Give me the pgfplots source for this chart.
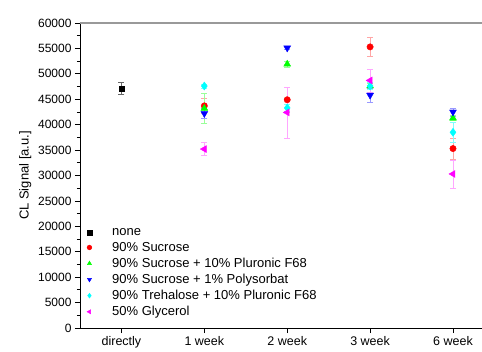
\documentclass[border=0pt]{standalone}
\usepackage{pgfplots}
\pgfplotsset{compat=1.18}
\usepackage{fontspec}
\setmainfont{Liberation Sans}
\definecolor{cgreen}{RGB}{0,255,0}
\definecolor{ccyan}{RGB}{0,255,255}
\definecolor{cmag}{RGB}{255,0,255}
\begin{document}
\begin{tikzpicture}
\begin{axis}[
  name=ax,
  at={(0,0)}, anchor=south west,
  scale only axis,
  width=402pt, height=305pt,
  xmin=-0.5, xmax=4.35,
  ymin=0, ymax=60000,
  axis x line*=bottom, axis y line*=left,
  axis line style={line width=0.9pt},
  xtick={0,1,2,3,4},
  xticklabels={directly,1 week,2 week,3 week,6 week},
  ytick={0,5000,...,60000},
  minor y tick num=1,
  tick align=outside,
  major tick length=5pt, minor tick length=3pt,
  tick style={line width=0.8pt, black},
  scaled y ticks=false,
  /pgf/number format/assume math mode=true,
  yticklabel style={/pgf/number format/1000 sep={}, font=\fontsize{12}{14}\selectfont},
  xticklabel style={font=\fontsize{12.5}{14}\selectfont},
  ylabel={CL Signal [a.u.]},
  ylabel style={font=\fontsize{13}{15}\selectfont},
  legend style={draw=none, fill=none, at={(rel axis cs:0.0,0.34)}, anchor=north west,
    font=\fontsize{13}{15}\selectfont, row sep=1.2pt, legend cell align=left},
  legend image code/.code={\path[draw=none, fill=none] (0cm,0cm) -- (0.95cm,0cm); \path[#1, draw=none, mark size=2.4pt] plot coordinates {(0.22cm,0cm)};},
  error bars/y dir=both, error bars/y explicit,
]
\draw[gray!80, line width=1.5pt] (rel axis cs:0,1) -- (rel axis cs:1,1);
\addplot[only marks, mark=square*, mark size=2.6pt, black,
  error bars/error bar style={black!60}, error bars/error mark options={rotate=90, mark size=3pt, black!60}]
  table[x=x, y=y, y error=e] {
x y e
0 47100 1200
};
\addplot[only marks, mark=*, mark size=3.2pt, red,
  error bars/error bar style={red!35}, error bars/error mark options={rotate=90, mark size=3pt, red!35}]
  table[x=x, y=y, y error=e] {
x y e
1 43700 1500
2 44900 2500
3 55300 1900
4 35300 2100
};
\addplot[only marks, mark=triangle*, mark size=4pt, cgreen,
  error bars/error bar style={cgreen!40}, error bars/error mark options={rotate=90, mark size=3pt, cgreen!40}]
  table[x=x, y=y, y error=e] {
x y e
1 43200 2900
2 51900 500
3 47600 500
4 41300 500
};
\addplot[only marks, mark=triangle*, mark options={rotate=180}, mark size=4pt, blue,
  error bars/error bar style={blue!40}, error bars/error mark options={rotate=90, mark size=3pt, blue!40}]
  table[x=x, y=y, y error=e] {
x y e
1 42200 1000
2 55100 300
3 45800 1300
4 42500 800
};
\addplot[only marks, mark=diamond*, mark size=4pt, ccyan,
  error bars/error bar style={ccyan!50}, error bars/error mark options={rotate=90, mark size=3pt, ccyan!50}]
  table[x=x, y=y, y error=e] {
x y e
1 47600 400
2 43300 700
3 47600 700
4 38500 1900
};
\addplot[only marks, mark=triangle*, mark options={rotate=90}, mark size=4pt, cmag,
  error bars/error bar style={cmag!35}, error bars/error mark options={rotate=90, mark size=3pt, cmag!35}]
  table[x=x, y=y, y error=e] {
x y e
1 35200 1300
2 42400 5000
3 48700 2300
4 30300 2800
};
\legend{none,90\% Sucrose,90\% Sucrose + 10\% Pluronic F68,90\% Sucrose + 1\% Polysorbat,90\% Trehalose + 10\% Pluronic F68,50\% Glycerol}
\end{axis}
\pgfresetboundingbox
\path ([shift={(-80pt,-23pt)}]ax.south west) rectangle ([shift={(402pt,328pt)}]ax.south west);
\end{tikzpicture}
\end{document}
